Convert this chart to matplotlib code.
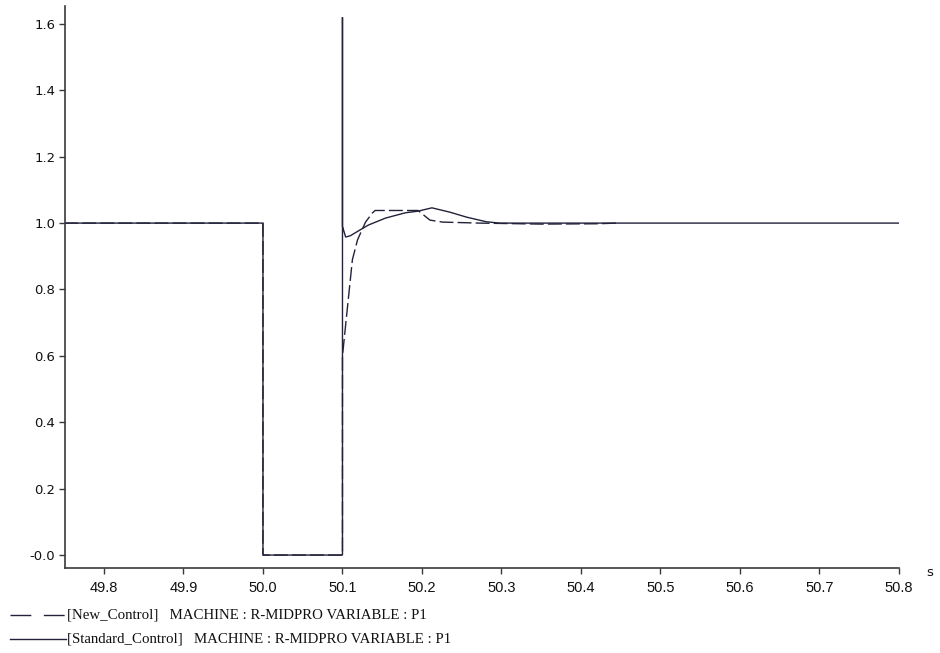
import matplotlib
matplotlib.use("Agg")
import matplotlib.pyplot as plt
from matplotlib.lines import Line2D

# Standard_Control (solid)
std_t = [49.75, 50.0, 50.0, 50.1, 50.1, 50.1, 50.1, 50.104, 50.11, 50.119, 50.1325,
         50.154, 50.179, 50.195, 50.2125, 50.235, 50.256, 50.281, 50.2975, 50.8]
std_v = [1.0, 1.0, 0.0, 0.0, 1.62, 1.14, 0.99, 0.958, 0.962, 0.975, 0.994,
         1.015, 1.031, 1.036, 1.046, 1.033, 1.018, 1.004, 1.0, 1.0]

# New_Control (dashed)
new_t = [49.75, 50.0, 50.0, 50.1, 50.1, 50.106, 50.1125, 50.119, 50.129, 50.1375,
         50.141, 50.195, 50.21, 50.226, 50.2725, 50.35, 50.42, 50.445]
new_v = [1.0, 1.0, 0.0, 0.0, 0.60, 0.74, 0.89, 0.95, 1.003, 1.03,
         1.038, 1.038, 1.009, 1.003, 1.0, 0.997, 0.998, 1.0]

x_ticks = [49.8, 49.9, 50.0, 50.1, 50.2, 50.3, 50.4, 50.5, 50.6, 50.7, 50.8]
y_ticks = [0.0, 0.2, 0.4, 0.6, 0.8, 1.0, 1.2, 1.4, 1.6]
y_tick_labels = ["-0.0", "0.2", "0.4", "0.6", "0.8", "1.0", "1.2", "1.4", "1.6"]

legend_labels = ["[New_Control]   MACHINE : R-MIDPRO VARIABLE : P1",
                 "[Standard_Control]   MACHINE : R-MIDPRO VARIABLE : P1"]

line_color = "#22223a"
axis_color = "#3a3a3a"

fig = plt.figure(figsize=(9.4, 6.53), dpi=100)
ax = fig.add_axes([65/940, (653-568)/653, (899-65)/940, (568-6)/653])

ax.plot(std_t, std_v, color=line_color, lw=1.0, solid_joinstyle="miter")
ax.plot(new_t, new_v, color=line_color, lw=1.0, dashes=(10, 3))

ax.set_xlim(49.751, 50.8)
ax.set_ylim(-0.039, 1.654)

for s in ["top", "right"]:
    ax.spines[s].set_visible(False)
for s in ["left", "bottom"]:
    ax.spines[s].set_color(axis_color)
    ax.spines[s].set_linewidth(1.2)

ax.set_xticks(x_ticks)
ax.set_xticklabels([f"{v:.1f}" for v in x_ticks], family="Liberation Sans", fontsize=10.5)
ax.set_yticks(y_ticks)
ax.set_yticklabels(y_tick_labels, family="DejaVu Sans", fontsize=9.5)
ax.tick_params(axis="both", length=4, width=1, color=axis_color, direction="out", pad=3,
               labelcolor="#111111")
ax.tick_params(axis="x", pad=5)

fig.text(930/940, (653-572)/653, "s", family="DejaVu Sans", fontsize=9.5,
         ha="center", va="center", color="#111111")

# legend (figure-level, below axes)
rows_y = [(653-615)/653, (653-639)/653]
styles = [dict(dashes=(15, 9)), dict()]
for yy, lab, st in zip(rows_y, legend_labels, styles):
    fig.add_artist(Line2D([10/940, 66/940], [yy, yy], transform=fig.transFigure,
                          color=line_color, lw=1.0, **st))
    fig.text(67/940, yy, lab, family="Liberation Serif", fontsize=10.7,
             ha="left", va="center", color="#111111")

fig.savefig("out.png", dpi=100)
